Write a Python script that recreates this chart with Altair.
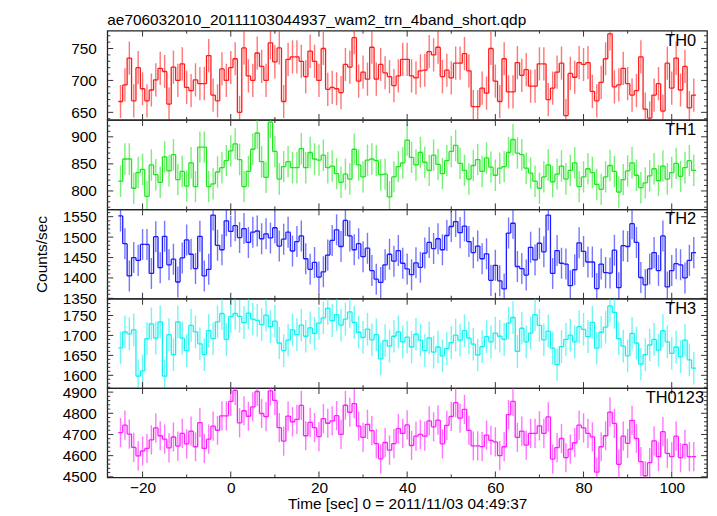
import altair as alt
import pandas as pd
import numpy as np

FONT = "Liberation Sans"
T_START = -25  # first 1-s bin centre; bins run -25 ... 105

TH0 = [667, 693, 735, 668, 720, 687, 668, 685, 701, 719, 714, 663, 721, 700, 726, 689, 684, 701, 695, 695,
       739, 677, 668, 718, 700, 720, 734, 650, 751, 707, 700, 743, 722, 700, 759, 729, 751, 667, 733, 737,
       737, 730, 706, 746, 730, 700, 750, 686, 689, 687, 681, 725, 721, 767, 699, 713, 702, 752, 702, 725,
       712, 706, 692, 707, 733,
       733, 707, 704, 715, 716, 745, 740, 752, 706, 716, 704, 727, 727, 742, 715, 659, 659, 688, 680, 750,
       699, 667, 734, 682, 682, 728, 708, 717, 691, 691, 726, 726, 670, 688, 713, 727, 645, 711, 705, 728,
       725, 728, 683, 668, 697, 734, 773, 690, 693, 719, 695, 677, 684, 737, 655, 641, 677, 695, 652, 727,
       688, 735, 685, 722, 657, 677]
TH1 = [818, 859, 859, 805, 834, 840, 790, 848, 830, 816, 863, 837, 867, 821, 836, 809, 852, 808, 881, 881,
       808, 813, 835, 843, 856, 874, 887, 858, 808, 836, 877, 907, 854, 825, 927, 873, 822, 845, 854, 843,
       843, 878, 843, 871, 859, 857, 866, 843, 846, 832, 816, 831, 822, 877, 848, 826, 857, 859, 856, 830,
       831, 789, 826, 845, 852, 894,
       862, 848, 871, 853, 838, 866, 849, 832, 856, 873,
       884, 851, 838, 822, 847, 858, 836, 861, 844, 829,
       842, 845, 871, 895, 870, 867, 842, 833, 818, 805,
       826, 848, 817, 831, 846, 822, 838, 852, 808, 826,
       841, 834, 812, 803, 826, 847, 836, 798, 821, 837,
       852, 829, 806, 815, 828, 841, 819, 846, 822, 834,
       851, 827, 843, 856, 838]
TH2 = [1552, 1484, 1405, 1450, 1443, 1482, 1482, 1411, 1501, 1425, 1502, 1432, 1446, 1390, 1449, 1493,
       1458, 1423, 1502, 1405, 1421, 1554, 1480, 1469, 1540, 1514, 1528,
       1499, 1521, 1487, 1512, 1515, 1496, 1508, 1498, 1523,
       1478, 1495, 1512, 1466, 1489, 1503, 1447, 1421, 1438, 1402,
       1415, 1456, 1492, 1518, 1477, 1541, 1503, 1469, 1484, 1452,
       1473, 1418, 1397, 1389, 1432, 1458, 1441, 1467, 1436, 1422,
       1408, 1437, 1426, 1461, 1487, 1472, 1496, 1469, 1504, 1526,
       1538, 1511, 1527, 1489, 1462, 1478, 1447, 1459, 1394, 1431,
       1393, 1373, 1510, 1534, 1428, 1423, 1407, 1475, 1444, 1485,
       1464, 1554, 1411, 1467, 1436, 1434, 1381, 1420, 1486, 1465,
       1439, 1439, 1374, 1434, 1413, 1412, 1468, 1376, 1479, 1477,
       1533, 1487, 1401, 1383, 1422, 1462, 1418, 1503, 1378, 1418,
       1435, 1432, 1400, 1443, 1462]
TH3 = [1669, 1709, 1704, 1714, 1598, 1611, 1692, 1729, 1693, 1734, 1598, 1702, 1652, 1734, 1693, 1662,
       1725, 1709, 1679, 1652, 1712, 1692, 1734, 1755, 1690, 1747, 1755,
       1748, 1732, 1756, 1741, 1738, 1727, 1751, 1722, 1736,
       1681, 1662, 1688, 1714, 1702, 1726, 1698, 1719, 1705, 1731,
       1744, 1768, 1737, 1752, 1726, 1741, 1759, 1733, 1708, 1695,
       1716, 1689, 1702, 1641, 1687, 1673, 1698, 1709, 1684, 1696,
       1671, 1703, 1688, 1662, 1694, 1658, 1671, 1649, 1667, 1682,
       1701, 1688, 1712, 1693, 1678, 1651, 1672, 1697, 1684, 1706,
       1698, 1690, 1731, 1745, 1660, 1718, 1684, 1706, 1752, 1725,
       1689, 1711, 1668, 1627, 1672, 1690, 1701, 1684, 1722, 1715,
       1697, 1733, 1668, 1708, 1721, 1774, 1758, 1692, 1673, 1649,
       1705, 1681, 1628, 1652, 1676, 1690, 1663, 1712, 1684, 1655,
       1671, 1647, 1688, 1639, 1618]
TH0123 = [4709, 4744, 4702, 4639, 4599, 4622, 4634, 4674, 4731, 4694, 4678, 4637, 4688, 4645, 4705, 4656,
          4716, 4642, 4756, 4634, 4678, 4739, 4720, 4788, 4788, 4856, 4908,
          4755, 4812, 4786, 4830, 4903, 4799, 4784, 4906, 4861,
          4732, 4669, 4787, 4760, 4771, 4837, 4694, 4757, 4732, 4690,
          4775, 4753, 4764, 4789, 4700, 4838, 4805, 4846, 4739, 4686,
          4748, 4718, 4657, 4585, 4662, 4626, 4657, 4728, 4705, 4745,
          4648, 4692, 4700, 4692, 4764, 4736, 4768, 4656, 4743, 4785,
          4850, 4777, 4819, 4719, 4646, 4646, 4643, 4697, 4672, 4665,
          4600, 4642, 4794, 4856, 4686, 4716, 4650, 4705, 4705, 4741, 4705, 4783, 4584, 4638, 4681, 4591,
          4631, 4661, 4744, 4731, 4705, 4689, 4522, 4642, 4694, 4806, 4752, 4559, 4692, 4658, 4767, 4681,
          4572, 4505, 4567, 4670, 4595, 4713, 4611, 4595, 4692, 4591, 4653, 4595, 4595]

NAMES = ["TH0", "TH1", "TH2", "TH3", "TH0123"]
SERIES = [TH0, TH1, TH2, TH3, TH0123]
ERRORS = [26, 29, 38, 41, 69]
COLORS = ["#ff1a1a", "#1ee61e", "#1a1aff", "#10f0f0", "#ff1aff"]
Y_DOMAINS = [[638, 778], [766, 931], [1349, 1568], [1568, 1792], [4497, 4919]]
Y_MAJOR = [[650, 700, 750], [800, 850, 900], [1350, 1400, 1450, 1500, 1550],
           [1600, 1650, 1700, 1750], [4500, 4600, 4700, 4800, 4900]]
Y_MINOR_STEP = [10, 10, 10, 10, 20]

X_DOMAIN = [-28, 108]
X_MAJOR = [-20, 0, 20, 40, 60, 80, 100]
X_MINOR = [-10, 10, 30, 50, 70, 90]

TITLE = "ae706032010_20111103044937_wam2_trn_4band_short.qdp"
X_TITLE = "Time [sec] 0 = 2011/11/03 04:49:37"
Y_TITLE = "Counts/sec"

W, H = 604, 90
MAJ, MIN = 6, 3
TICK_COLOR = "#333333"
FS = 15.5


def panel(i):
    name, vals, err, color = NAMES[i], SERIES[i], ERRORS[i], COLORS[i]
    ydom, ymaj = Y_DOMAINS[i], Y_MAJOR[i]
    step = Y_MINOR_STEP[i]
    ymin = [v for v in range(int(np.ceil(ydom[0] / step) * step), int(ydom[1]) + 1, step) if v not in ymaj]
    bottom = i == len(NAMES) - 1

    t = np.arange(len(vals)) + T_START
    v = np.array([np.nan if x is None else x for x in vals], dtype=float)
    df = pd.DataFrame({"t": t, "v": v})
    df["t0"] = df["t"] - 0.5
    df["t1"] = df["t"] + 0.5
    df["lo"] = df["v"] - err
    df["hi"] = df["v"] + err
    conn = pd.DataFrame({"te": df["t1"].values[:-1], "a": v[:-1], "b": v[1:]}).dropna()
    df = df.dropna()

    xs = alt.Scale(domain=X_DOMAIN, nice=False, zero=False)
    ys = alt.Scale(domain=ydom, nice=False, zero=False)
    if bottom:
        xax = alt.Axis(values=X_MAJOR, format="d", ticks=False, domain=False, grid=False, labelFontSize=FS,
                       labelFont=FONT, labelColor="black", labelPadding=3, labelFlush=False,
                       title=X_TITLE, titleFont=FONT, titleFontSize=FS, titleFontWeight="normal",
                       titleColor="black", titlePadding=1)
    else:
        xax = None
    yax_kw = dict(values=ymaj, format="d", ticks=False, domain=False, grid=False, labelFontSize=FS,
                  labelFont=FONT, labelColor="black", labelPadding=11, labelFlush=False)
    if i == 2:
        yax = alt.Axis(title=Y_TITLE, titleFont=FONT, titleFontSize=FS, titleFontWeight="normal",
                       titleColor="black", titlePadding=13, **yax_kw)
    else:
        yax = alt.Axis(title=None, **yax_kw)

    def X(f):
        return alt.X(f, type="quantitative", scale=xs, axis=xax)

    def Y(f):
        return alt.Y(f, type="quantitative", scale=ys, axis=yax)

    layers = []
    layers.append(alt.Chart(df).mark_rule(color=color, strokeWidth=1.4, opacity=0.6, clip=True)
                  .encode(x=X("t"), y=Y("lo"), y2="hi"))
    layers.append(alt.Chart(df).mark_rule(color=color, strokeWidth=1.3, clip=True)
                  .encode(x=X("t0"), x2="t1", y=Y("v")))
    layers.append(alt.Chart(conn).mark_rule(color=color, strokeWidth=1.3, clip=True)
                  .encode(x=X("te"), y=Y("a"), y2="b"))

    ymaj_df = pd.DataFrame({"y": ymaj})
    ymin_df = pd.DataFrame({"y": ymin})
    xmaj_df = pd.DataFrame({"x": X_MAJOR})
    xmin_df = pd.DataFrame({"x": X_MINOR})
    for d, ln in ((ymaj_df, MAJ), (ymin_df, MIN)):
        layers.append(alt.Chart(d).mark_rule(color=TICK_COLOR, strokeWidth=1)
                      .encode(y=Y("y"), x=alt.value(0), x2=alt.value(ln)))
        layers.append(alt.Chart(d).mark_rule(color=TICK_COLOR, strokeWidth=1)
                      .encode(y=Y("y"), x=alt.value(W - ln), x2=alt.value(W)))
    for d, ln in ((xmaj_df, MAJ), (xmin_df, MIN)):
        layers.append(alt.Chart(d).mark_rule(color=TICK_COLOR, strokeWidth=1)
                      .encode(x=X("x"), y=alt.value(0), y2=alt.value(ln)))
        layers.append(alt.Chart(d).mark_rule(color=TICK_COLOR, strokeWidth=1)
                      .encode(x=X("x"), y=alt.value(H - ln), y2=alt.value(H)))

    lab = pd.DataFrame({"lab": [name]})
    layers.append(alt.Chart(lab).mark_text(align="right", baseline="top", font=FONT, fontSize=16.5,
                                           color="black")
                  .encode(text="lab:N", x=alt.value(W - (3 if bottom else 11)), y=alt.value(2)))

    ch = alt.layer(*layers).properties(width=W, height=H)
    if i == 0:
        ch = ch.properties(title=alt.TitleParams(text=TITLE, anchor="start", frame="group", font=FONT,
                                                 fontSize=FS, fontWeight="normal", color="black", offset=2))
    return ch


chart = alt.vconcat(*[panel(i) for i in range(len(NAMES))], spacing=0, bounds="flush").properties(
    padding={"left": 25, "top": 2, "right": 0, "bottom": 0}
).configure_view(stroke="#222222", strokeWidth=1.3)

chart.save("out.html", embed_options={"renderer": "svg", "actions": False})
